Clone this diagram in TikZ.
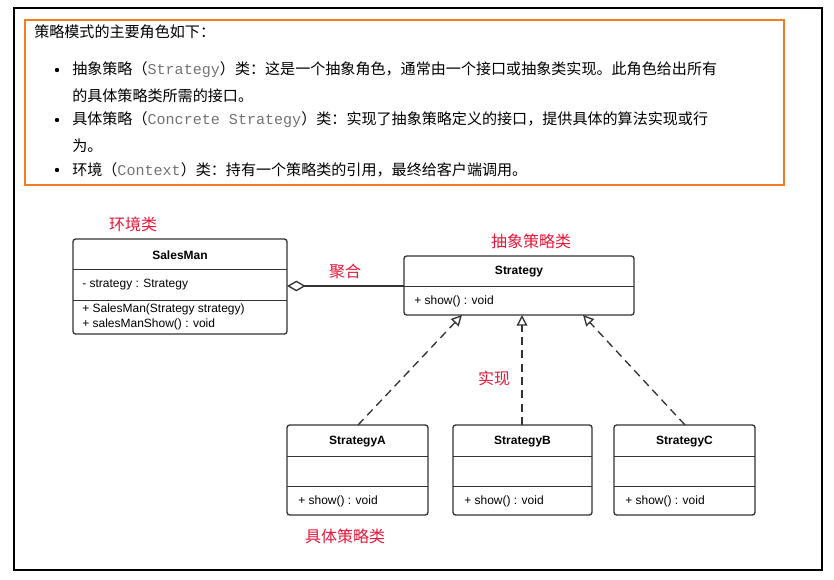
\documentclass[tikz,border=0pt]{standalone}
\usepackage{fontspec}
\setmainfont{Liberation Sans}
\newfontfamily\cjk{Noto Sans CJK SC}
\newfontfamily\monof{Liberation Mono}
\usetikzlibrary{arrows.meta}
\definecolor{orng}{HTML}{F47B20}
\definecolor{lbl}{HTML}{E8173A}
\definecolor{bd}{HTML}{333333}
\tikzset{
 txt/.style={anchor=west,inner sep=0pt,font=\cjk\fontsize{11.3}{13}\selectfont},
 cls/.style={draw=bd,line width=1pt,rounded corners=2pt},
 cname/.style={font=\bfseries\fontsize{9}{10}\selectfont,inner sep=0pt},
 mem/.style={anchor=west,font=\fontsize{9}{10}\selectfont,inner sep=0pt},
 red/.style={text=lbl,font=\cjk\fontsize{12}{14}\selectfont,inner sep=0pt},
 real/.style={draw=bd,line width=1pt,dash pattern=on 6pt off 4pt,-{Triangle[open,length=8pt,width=8pt]}},
}
\newcommand{\mn}[1]{{\monof\color{gray!90!black}#1}}
\begin{document}
\begin{tikzpicture}[x=0.75pt,y=-0.75pt]
\useasboundingbox (0,0) rectangle (834,580);
\draw[line width=1.5pt] (14,8) rectangle (822,570);
\draw[orng,line width=1.6pt] (25,20) rectangle (784,185);
\node[txt] (t0) at (34,32) {策略模式的主要角色如下：};
\foreach \y in {70,120,170}{\fill (57,\y) circle (2.2);}
\node[txt] (t1) at (72,70) {抽象策略（\mn{Strategy}）类：这是一个抽象角色，通常由一个接口或抽象类实现。此角色给出所有};
\node[txt] (t2) at (72,96) {的具体策略类所需的接口。};
\node[txt] (t3) at (72,120) {具体策略（\mn{Concrete Strategy}）类：实现了抽象策略定义的接口，提供具体的算法实现或行};
\node[txt] (t4) at (72,146) {为。};
\node[txt] (t5) at (72,170) {环境（\mn{Context}）类：持有一个策略类的引用，最终给客户端调用。};
% SalesMan
\draw[cls] (73,239) rectangle (287,334);
\draw[bd] (73,269) -- (287,269) (73,300) -- (287,300);
\node[cname] (sm) at (180,255) {SalesMan};
\node[mem] at (82,285) {- strategy : Strategy};
\node[mem] at (82,309) {+ SalesMan(Strategy strategy)};
\node[mem] at (82,324) {+ salesManShow() : void};
\coordinate (smr) at (287,286);
% Strategy
\draw[cls] (404,256) rectangle (634,315);
\draw[bd] (404,286) -- (634,286);
\node[cname] (st) at (519,272) {Strategy};
\node[mem] at (414,301) {+ show() : void};
\coordinate (stl) at (404,286);
% concrete
\foreach \n/\a/\b in {A/287/428,B/453/592,C/614/755}{
 \draw[cls] (\a,425) rectangle (\b,515);
 \draw[bd] (\a,456) -- (\b,456) (\a,486) -- (\b,486);
 \node[cname] (s\n) at ({(\a+\b)/2},442) {Strategy\n};
 \node[mem] at ({\a+11},501) {+ show() : void};
}
\draw[bd,line width=1pt,{Diamond[open,length=14pt,width=8pt]}-] (smr) -- (stl);
\draw[real] (358,425) -- (462,315);
\draw[real] (522,425) -- (522,315);
\draw[real] (685,425) -- (583,315);
\node[red] at (133,224) {环境类};
\node[red] at (531,241) {抽象策略类};
\node[red] at (345,271) {聚合};
\node[red] at (494,378) {实现};
\node[red] at (345,536) {具体策略类};
\end{tikzpicture}
\end{document}
